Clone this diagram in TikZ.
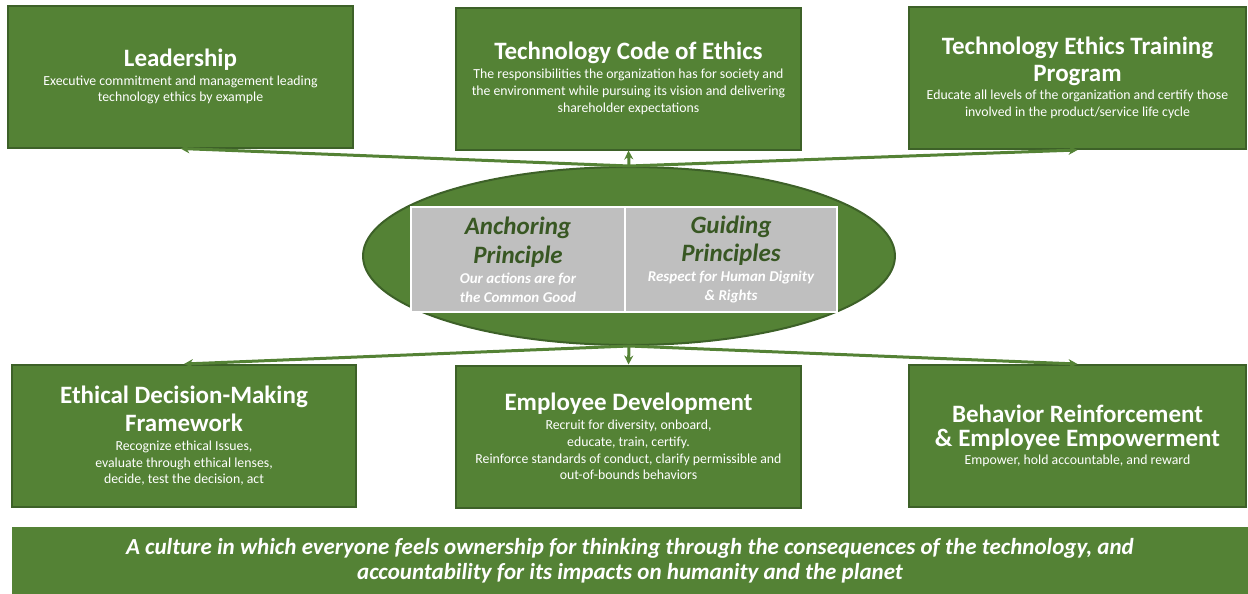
\documentclass[tikz,border=0pt]{standalone}
\usepackage{fontspec}
\setmainfont{Carlito}
\usepackage{tikz}
\usetikzlibrary{arrows.meta}
\usetikzlibrary{shapes.geometric}

\definecolor{boxgreen}{HTML}{548235}
\definecolor{rimgreen}{HTML}{3D6128}
\definecolor{darkgreen}{HTML}{385723}
\definecolor{panelgray}{HTML}{BFBFBF}

\newcommand{\headfont}{\fontsize{12.5}{14}\selectfont\bfseries}
\newcommand{\bodyfont}{\fontsize{6.9}{8.4}\selectfont}
\newcommand{\panelhead}{\fontsize{12.5}{15}\selectfont\bfseries\itshape\color{darkgreen}}
\newcommand{\panelbody}{\fontsize{7.5}{9.5}\selectfont\bfseries\itshape\color{white}}
\newcommand{\bannerfont}{\fontsize{11.5}{12.5}\selectfont\bfseries\itshape}

\begin{document}
\begin{tikzpicture}[x=0.5pt, y=-0.5pt]
  \useasboundingbox (0,0) rectangle (1248,594);
  \begin{scope}[every node/.style = {rectangle, fill=boxgreen, draw=rimgreen, line width=1pt,
      text=white, align=center, minimum height=71pt, font=\bodyfont}]
    % upper row
    \node[minimum width=172.5pt] (lead) at (180.5,76.5)
      {\headfont Leadership\\[1pt] \bodyfont Executive commitment and management leading\\
       \bodyfont technology ethics by example};
    \node[minimum width=172.5pt] (code) at (628.5,78.5)
      {\headfont Technology Code of Ethics\\[1pt] \bodyfont The responsibilities the organization has for society and\\
       \bodyfont the environment while pursuing its vision and delivering\\ \bodyfont shareholder expectations};
    \node[minimum width=168.5pt] (train) at (1077.5,78)
      {\headfont Technology Ethics Training\\[2pt] \headfont Program\\[1pt]
       \bodyfont Educate all levels of the organization and certify those\\ \bodyfont involved in the product/service life cycle};
    % lower row
    \node[minimum width=172pt] (edm) at (184,436)
      {\headfont Ethical Decision-Making\\[2pt] \headfont Framework\\[1pt] \bodyfont Recognize ethical Issues,\\
       \bodyfont evaluate through ethical lenses,\\ \bodyfont decide, test the decision, act};
    \node[minimum width=172.5pt] (empdev) at (628.5,436.5)
      {\headfont Employee Development\\[1pt] \bodyfont Recruit for diversity, onboard,\\ \bodyfont educate, train, certify.\\
       \bodyfont Reinforce standards of conduct, clarify permissible and\\ \bodyfont out-of-bounds behaviors};
    \node[minimum width=168.5pt] (behav) at (1077.5,436)
      {\headfont Behavior Reinforcement\\[2pt] \headfont \& Employee Empowerment\\[1pt] \bodyfont Empower, hold accountable, and reward};
    % banner
    \node[draw=none, minimum width=618pt, minimum height=33.5pt, font=\bannerfont] (culture) at (630,560.5)
      {\bannerfont A culture in which everyone feels ownership for thinking through the consequences of the technology, and\\
       \bannerfont accountability for its impacts on humanity and the planet};
  \end{scope}
  % centre
  \node[ellipse, fill=boxgreen, draw=rimgreen, line width=1pt, minimum width=266pt, minimum height=89pt] (ell) at (629,256) {};
  \begin{scope}[every node/.style = {rectangle, fill=panelgray, draw=white, line width=1pt,
      align=center, minimum height=52.5pt, font=\panelbody}]
    \node[minimum width=107pt] (anchorbox) at (518,259.5)
      {\panelhead Anchoring\\[2.5pt] \panelhead Principle\\[0.5pt] \panelbody Our actions are for\\ \panelbody the Common Good};
    \node[minimum width=106pt] (guidebox) at (731,259.5)
      {\panelhead Guiding\\[2.5pt] \panelhead Principles\\[0.5pt] \panelbody Respect for Human Dignity\\ \panelbody \& Rights};
  \end{scope}
  \begin{scope}[>={Stealth[length=4.5pt, width=4.5pt]},
      every edge/.style={draw=boxgreen, line width=1.5pt}]
    \path [->] (ell.north) edge (lead.south);
    \path [->] (ell.north) edge (code.south);
    \path [->] (ell.north) edge (train.south);
    \path [->] (ell.south) edge (edm.north);
    \path [->] (ell.south) edge (empdev.north);
    \path [->] (ell.south) edge (behav.north);
  \end{scope}
\end{tikzpicture}
\end{document}
